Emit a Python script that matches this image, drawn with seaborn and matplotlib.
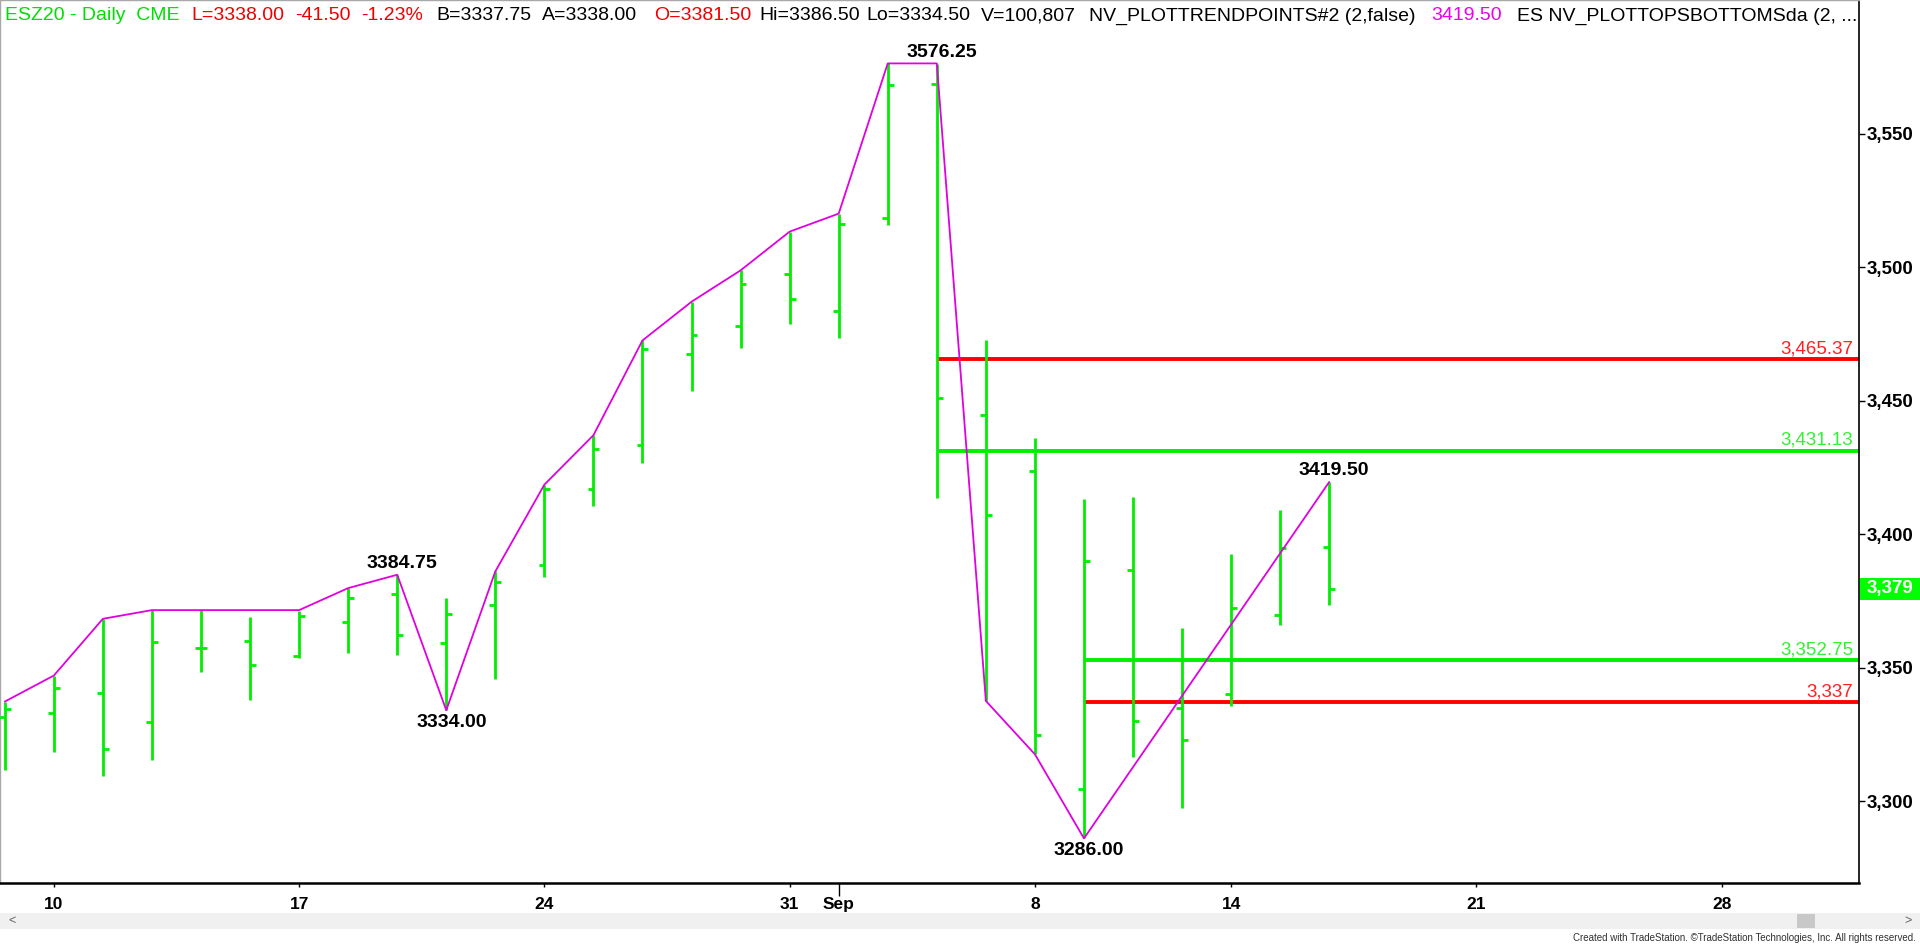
import numpy as np
import pandas as pd
import matplotlib
matplotlib.use('Agg')
import matplotlib.pyplot as plt
import seaborn as sns
from matplotlib import transforms
from matplotlib.patches import Rectangle

# daily ESZ20 bars, Aug 7 .. Sep 16 2020 (Sep 7 holiday skipped)
opens = [3331.5, 3333.0, 3340.5, 3329.5, 3357.25, 3360.0, 3354.25, 3367.0, 3377.5, 3359.0,
         3373.25, 3388.25, 3416.75, 3433.5, 3467.25, 3478.0, 3497.25, 3483.5, 3518.25, 3568.5,
         3444.5, 3423.5, 3304.5, 3386.5, 3334.75, 3340.0, 3369.75, 3395.25]
highs = [3337.25, 3347.0, 3368.25, 3371.5, 3371.5, 3369.0, 3371.0, 3379.75, 3384.75, 3376.0,
         3386.0, 3418.5, 3437.0, 3472.5, 3487.0, 3498.75, 3513.25, 3520.0, 3576.25, 3576.0,
         3472.75, 3436.0, 3413.25, 3414.0, 3364.75, 3392.5, 3409.0, 3419.5]
lows = [3311.5, 3318.5, 3309.5, 3315.5, 3348.25, 3338.0, 3353.75, 3355.5, 3354.75, 3334.0,
        3345.75, 3384.0, 3410.5, 3426.75, 3453.75, 3469.75, 3478.5, 3473.25, 3515.75, 3413.5,
        3337.5, 3317.5, 3286.0, 3316.5, 3297.5, 3335.75, 3365.75, 3373.25]
closes = [3334.5, 3342.25, 3319.5, 3359.5, 3357.25, 3351.0, 3369.25, 3376.0, 3362.0, 3370.0,
          3382.0, 3416.75, 3432.0, 3469.25, 3474.5, 3493.5, 3488.0, 3516.0, 3568.0, 3451.0,
          3407.0, 3324.75, 3389.75, 3330.0, 3323.0, 3372.25, 3394.75, 3379.5]

# NV_PLOTTRENDPOINTS line (NaN = no point on that bar)
trend = [3337.25, 3347.0, 3368.25, 3371.5, 3371.5, 3371.5, 3371.5, 3379.75, 3384.75, 3334.0,
         3386.0, 3418.5, 3437.0, 3472.5, 3487.0, 3498.75, 3513.25, 3520.0, 3576.25, 3576.25,
         3337.5, 3317.5, 3286.0, np.nan, np.nan, np.nan, np.nan, 3419.5]

# swing labels
swing_idx = [8, 9, 19, 22, 27]
swing_val = [3384.75, 3334.00, 3576.25, 3286.00, 3419.50]
swing_side = ['top', 'bottom', 'top', 'bottom', 'top']

# horizontal levels
levels = [3465.37, 3431.13, 3352.75, 3337.00]
level_start = [19, 19, 22, 22]
level_text = ['3,465.37', '3,431.13', '3,352.75', '3,337']
level_kind = ['red', 'green', 'green', 'red']

# x axis
tick_pos = [1, 6, 11, 16, 21, 25, 30, 35]
tick_labels = ['10', '17', '24', '31', '8', '14', '21', '28']
month_pos = [17]
month_labels = ['Sep']
y_ticks = [3300, 3350, 3400, 3450, 3500, 3550]

header = [('ESZ20 - Daily  CME', 'green'), ('L=3338.00', 'red'), ('-41.50', 'red'),
          ('-1.23%', 'red'), ('B=3337.75', 'black'), ('A=3338.00', 'black'),
          ('O=3381.50', 'red'), ('Hi=3386.50', 'black'), ('Lo=3334.50', 'black'),
          ('V=100,807', 'black'), ('NV_PLOTTRENDPOINTS#2 (2,false)', 'black'),
          ('3419.50', 'magenta'), ('ES NV_PLOTTOPSBOTTOMSda (2, ...', 'black')]
header_x = [5, 191, 295, 361, 436, 542, 654, 759, 866, 981, 1089, 1431, 1517]

BAR_GREEN = '#00ee00'
LINE_GREEN = '#00f000'
RED = '#ff0000'
MAGENTA = '#e000e0'
palette = {'green': '#00e000', 'red': '#ee0000', 'black': 'black', 'magenta': '#ee00ee'}
level_line_col = {'red': RED, 'green': LINE_GREEN}
level_txt_col = {'red': '#ff2020', 'green': '#33f033'}

sns.set_theme(style='white')
plt.rcParams['font.family'] = ['Liberation Sans', 'DejaVu Sans']

W, H = 1920, 944
fig = plt.figure(figsize=(W / 100, H / 100), dpi=100)
fig.patch.set_facecolor('white')
ax = fig.add_axes([0, 1 - 883 / H, 1859 / W, 883 / H])
ax.set_facecolor('white')

x = np.arange(len(opens))
xmin, xmax = -0.098, 37.8
ymin, ymax = 3269.3, 3600.0

# level lines
for lv, st, kind, txt in zip(levels, level_start, level_kind, level_text):
    ax.hlines(lv, st, xmax, color=level_line_col[kind], lw=2.8, zorder=2)
    ax.annotate(txt, xy=(0.9968, lv), xycoords=transforms.blended_transform_factory(ax.transAxes, ax.transData),
                xytext=(0, 6), textcoords='offset pixels', ha='right', va='baseline',
                fontsize=13.5, color=level_txt_col[kind], zorder=5)

# OHLC bars
tw = 0.12
ax.vlines(x, lows, highs, color=BAR_GREEN, lw=2.0, zorder=3)
ax.hlines(opens, x - tw, x, color=BAR_GREEN, lw=2.0, zorder=3)
ax.hlines(closes, x, x + tw, color=BAR_GREEN, lw=2.0, zorder=3)

# trend points line
trend_df = pd.DataFrame({'bar': x, 'price': trend}).dropna()
sns.lineplot(data=trend_df, x='bar', y='price', estimator=None, sort=False,
             color=MAGENTA, lw=1.3, ax=ax, zorder=4)

for i, v, side in zip(swing_idx, swing_val, swing_side):
    dy = 11 if side == 'top' else -12
    ax.annotate(f'{v:.2f}', xy=(i, v), xytext=(5, dy), textcoords='offset pixels',
                ha='center', va='center', fontsize=14, fontweight='bold', color='black', zorder=6)

ax.set_xlim(xmin, xmax)
ax.set_ylim(ymin, ymax)
ax.set_xlabel('')
ax.set_ylabel('')
ax.grid(False)

# axes / ticks
ax.yaxis.tick_right()
ax.set_yticks(y_ticks, labels=[f'{t:,}' for t in y_ticks], fontsize=13.5, fontweight='bold')
ax.set_xticks(tick_pos, labels=tick_labels, fontsize=12.5, fontweight='bold')
ax.set_xticks(month_pos, labels=month_labels, minor=True, fontsize=12.5, fontweight='bold')
ax.tick_params(axis='y', which='major', right=True, length=4, width=1, pad=1.5, colors='black')
ax.tick_params(axis='x', which='major', bottom=True, length=3, width=1, pad=7, colors='black')
ax.tick_params(axis='x', which='minor', bottom=True, length=9, width=1, pad=1, colors='black')

for side in ['left', 'top']:
    ax.spines[side].set_color('#a8a8a8')
    ax.spines[side].set_linewidth(1.0)
ax.spines['right'].set_color('black')
ax.spines['right'].set_linewidth(1.2)
ax.spines['bottom'].set_color('black')
ax.spines['bottom'].set_linewidth(1.8)

# last price tag on the price scale
y_px = ax.transData.transform((0, closes[-1]))[1]
fig.patches.append(Rectangle((1860 / W, (y_px - 11) / H), 60 / W, 22 / H, transform=fig.transFigure,
                             fc='#00ff00', ec='none', zorder=3))
fig.text(1867 / W, y_px / H, f'{int(closes[-1]):,}', ha='left', va='center',
         fontsize=13.5, fontweight='bold', color='white', zorder=4)

# header line
for (txt, col), hx in zip(header, header_x):
    fig.text(hx / W, 1 - 20.5 / H, txt, ha='left', va='baseline', fontsize=14, color=palette[col])

# scroll bar + footer
fig.patches.append(Rectangle((0, 1 - 929 / H), 1, 16 / H, transform=fig.transFigure,
                             fc='#f0f0f0', ec='none', zorder=0))
fig.patches.append(Rectangle((1797 / W, 1 - 928 / H), 18 / W, 14 / H, transform=fig.transFigure,
                             fc='#c8c8c8', ec='none', zorder=1))
fig.text(8 / W, 1 - 921 / H, '<', ha='left', va='center', fontsize=9, color='#606060')
fig.text(1912 / W, 1 - 921 / H, '>', ha='right', va='center', fontsize=9, color='#606060')
fig.text(1916 / W, 1 - 938 / H,
         'Created with TradeStation. \u00a9TradeStation Technologies, Inc. All rights reserved.',
         ha='right', va='center', fontsize=7, color='#303030')

fig.savefig('out.png', dpi=100)
